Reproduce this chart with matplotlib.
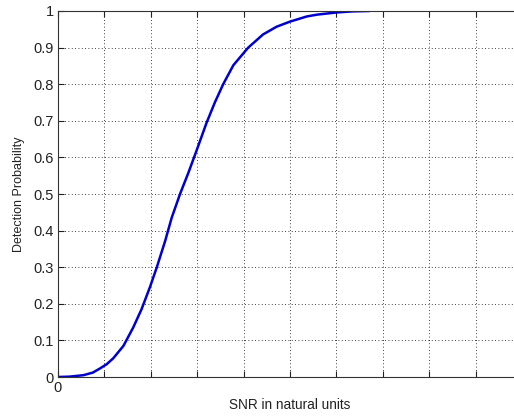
import matplotlib.pyplot as plt

plt.rcParams['font.family'] = ['Liberation Sans', 'DejaVu Sans']

# SNR (natural units) and detection probability
snr = [0.0, 0.25, 0.55, 0.75, 0.9, 1.05, 1.19, 1.41, 1.62, 1.80, 1.98, 2.13,
       2.31, 2.45, 2.63, 2.81, 2.99, 3.20, 3.38, 3.56, 3.78, 4.10, 4.42, 4.71,
       5.0, 5.36, 5.58, 6.0, 6.35, 6.69]
pd = [0.0, 0.001, 0.005, 0.012, 0.023, 0.035, 0.051, 0.085, 0.135, 0.185,
      0.245, 0.30, 0.372, 0.435, 0.50, 0.558, 0.62, 0.694, 0.75, 0.80, 0.852,
      0.90, 0.936, 0.957, 0.971, 0.985, 0.990, 0.996, 0.999, 1.0]

xticks = list(range(0, 11))
xticklabels = ['0'] + [''] * 10
yticks = [i / 10 for i in range(11)]
yticklabels = ['0', '0.1', '0.2', '0.3', '0.4', '0.5', '0.6', '0.7', '0.8', '0.9', '1']

fig = plt.figure(figsize=(5.14, 4.19), dpi=100)
# axes run past the right edge, as in the cropped original
ax = fig.add_axes([58 / 514, 42 / 419, 464 / 514, 366 / 419])

ax.plot(snr, pd, color='#0000cc', lw=1.8)

ax.set_xlim(0, 10)
ax.set_ylim(0, 1)
ax.set_xticks(xticks)
ax.set_xticklabels(xticklabels)
ax.set_yticks(yticks)
ax.set_yticklabels(yticklabels)
ax.tick_params(direction='in', top=True, right=True, length=4, width=0.8,
               labelsize=10.5, colors='#222222', pad=3)
ax.grid(True, linestyle=(0, (1, 3)), color='black', linewidth=0.6)
for s in ax.spines.values():
    s.set_color('#333333')
    s.set_linewidth(0.8)

ax.set_xlabel('SNR in natural units', fontsize=9.8, labelpad=2, color='#222222')
ax.set_ylabel('Detection Probability', fontsize=9, labelpad=6, color='#222222')

fig.savefig('out.png', dpi=100)
